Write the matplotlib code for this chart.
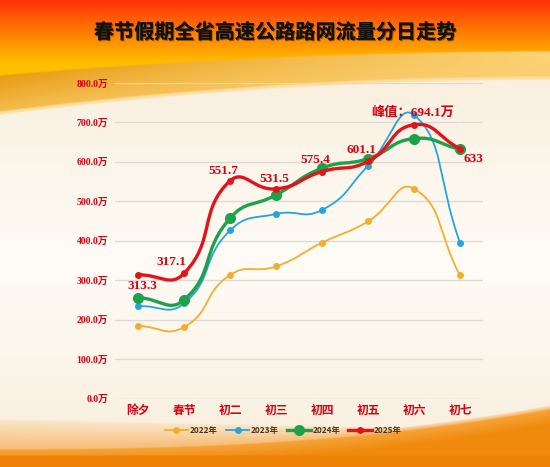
import matplotlib
matplotlib.use("Agg")
import matplotlib.pyplot as plt
import numpy as np
from matplotlib.path import Path
from matplotlib.patches import PathPatch
from matplotlib.lines import Line2D
import matplotlib.patheffects as pe

plt.rcParams['font.family'] = ['Noto Sans CJK SC', 'DejaVu Sans']

# data (万辆)
days = ['除夕', '春节', '初二', '初三', '初四', '初五', '初六', '初七']
y2022 = [184, 181, 313, 335, 395, 449, 532, 312]
y2023 = [234, 241, 426, 468, 478, 590, 719, 395]
y2024 = [256, 250, 457, 516, 584, 608, 659, 632]
y2025 = [313.3, 317.1, 551.7, 531.5, 575.4, 601.1, 694.1, 633]
labels2025 = ['313.3', '317.1', '551.7', '531.5', '575.4', '601.1', '峰值：694.1万', '633']
label_off = [(3, -8), (-9, 8), (-5, 7), (-1, 7), (-5, 8), (-4.5, 8), (-1, 9), (9.5, -7)]
yticks = [0, 100, 200, 300, 400, 500, 600, 700, 800]

W, H = 550, 467
fig = plt.figure(figsize=(W / 100, H / 100), dpi=100)

# background picture
bg = fig.add_axes([0, 0, 1, 1], zorder=-10)
bg.axis('off')
yy, xx = np.mgrid[0:H, 0:W].astype(float)
u = xx / W


def mix(c1, c2, t):
    t = np.clip(t, 0, 1)[..., None]
    return np.array(c1, float) * (1 - t) + np.array(c2, float) * t


def lay(img, col, a):
    a = np.clip(a, 0, 1)[..., None]
    return img * (1 - a) + col * a


img = mix((255, 50, 10), (255, 125, 0), yy / 32)
img = lay(img, mix((255, 125, 0), (255, 190, 0), (yy - 32) / 30), (yy - 32) / 1e-3)
c1 = 74 - 24 * (1 - (1 - u) ** 2)
c2 = 113 - 35 * (1 - (1 - u) ** 2)
band = mix((232, 155, 18), (252, 212, 120), u)
band = mix(band, (250, 205, 110), (yy - c1) / (c2 - c1) * 0.7)
img = lay(img, band, (yy - c1) / 2)
cream = mix((249, 240, 224), (255, 252, 247), 1 - np.abs(yy - 260) / 170)
img = lay(img, (252, 222, 160), (yy - c2 + 3) / 2)
img = lay(img, cream, (yy - c2) / 2)
b2 = 448 - 40 * u ** 2.5
b1 = np.minimum(418 + 12 * u, b2 - 4)
img = lay(img, mix((250, 232, 205), (247, 190, 120), (yy - b1) / (b2 - b1)), (yy - b1) / 2)
img = lay(img, mix((247, 165, 60), (240, 138, 12), (yy - b2) / 16), (yy - b2) / 1.5)
img = lay(img, np.array((238, 130, 5), float), (yy - 454) / 2)
bg.imshow(img.astype(np.uint8), extent=[0, W, H, 0], aspect='auto')
bg.set_xlim(0, W)
bg.set_ylim(H, 0)

# title
fig.text(275 / W, 1 - 32 / H, '春节假期全省高速公路路网流量分日走势', ha='center', va='center',
         fontsize=14.5, fontweight='heavy', color='#111111',
         path_effects=[pe.withSimplePatchShadow(offset=(0.8, -0.8), shadow_rgbFace='#5a2a00', alpha=0.6),
                       pe.Normal()])

ax = fig.add_axes([115 / W, 68.5 / H, 368 / W, 315.5 / H])
ax.set_facecolor('none')
x = np.arange(len(days))
ax.set_xlim(-0.5, len(days) - 0.5)
ax.set_ylim(0, 800)
ax.set_yticks(yticks)
ax.set_yticklabels([f'{v:.1f}万' for v in yticks], family=['Liberation Serif', 'Noto Sans CJK SC'],
                   fontweight='bold', fontsize=7, color='#D7000F')
ax.set_xticks(x)
ax.set_xticklabels(days, fontsize=8.5, fontweight='bold', color='#D7000F')
ax.tick_params(axis='both', length=0)
ax.tick_params(axis='y', pad=5)
ax.tick_params(axis='x', pad=4)
for s in ax.spines.values():
    s.set_visible(False)
ax.grid(axis='y', color='#DEDAD3', lw=1)
ax.set_axisbelow(True)


def smooth_line(xs, ys, color, lw, z, smooth=0.5):
    pts = ax.transData.transform(np.column_stack([xs, ys]))
    n = len(pts)
    cin, cout = [None] * n, [None] * n
    for i in range(n):
        p = pts[i]
        prev = pts[i - 1] if i > 0 else p
        nxt = pts[i + 1] if i < n - 1 else p
        v = nxt - prev
        dp = np.hypot(*(p - prev))
        dn = np.hypot(*(nxt - p))
        r = dn / (dp + dn)
        cout[i] = p + v * smooth * r
        cin[i] = p - v * smooth * (1 - r)
    verts = [pts[0]]
    codes = [Path.MOVETO]
    for i in range(n - 1):
        verts += [cout[i], cin[i + 1], pts[i + 1]]
        codes += [Path.CURVE4] * 3
    verts = ax.transData.inverted().transform(np.array(verts))
    ax.add_patch(PathPatch(Path(verts, codes), fc='none', ec=color, lw=lw, zorder=z,
                           capstyle='round', joinstyle='round'))


series = [
    ('2022年', y2022, '#F2AE2E', 1.3, 4.0),
    ('2023年', y2023, '#26A4DE', 1.3, 4.0),
    ('2024年', y2024, '#1DA14A', 2.4, 7.0),
    ('2025年', y2025, '#E3131B', 2.4, 4.0),
]
handles = []
for k, (name, vals, col, lw, ms) in enumerate(series):
    smooth_line(x, vals, col, lw, 3 + k)
    ax.plot(x, vals, 'o', color=col, ms=ms, zorder=3 + k)
    handles.append(Line2D([], [], color=col, lw=lw, marker='o', ms=ms, label=name))

for xi, v, t, off in zip(x, y2025, labels2025, label_off):
    ax.annotate(t, (xi, v), xytext=off, textcoords='offset points', ha='center', va='center',
                fontsize=9.5, fontweight='bold', color='#D7000F',
                family=['Liberation Serif', 'Noto Sans CJK SC'], zorder=10)

leg = fig.legend(handles=handles, loc='center', bbox_to_anchor=(283 / W, 1 - 430 / H), ncol=4,
                 frameon=False, fontsize=6, handlelength=2.8, handletextpad=0.2, columnspacing=1.0,
                 labelcolor='#4a3420', markerscale=1.0, borderpad=0)
for t in leg.get_texts():
    t.set_fontweight('bold')

fig.savefig('out.png', dpi=100)
